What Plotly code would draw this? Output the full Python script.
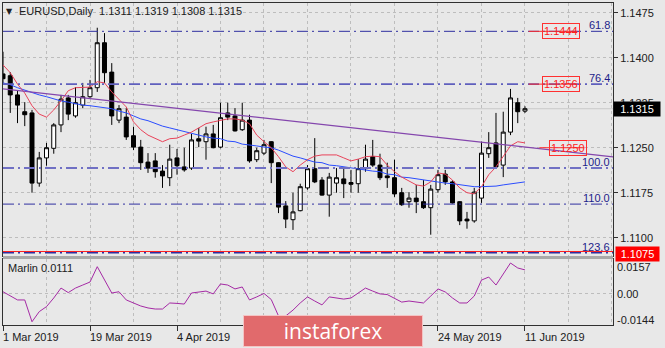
import plotly.graph_objects as go
import pandas as pd

# ---------------- data ----------------
DATES = [d.strftime("%Y-%m-%d") for d in pd.bdate_range("2019-03-01", "2019-06-11")]

OPEN = [1.1373, 1.1370, 1.1338, 1.1310, 1.1308, 1.1191, 1.1233, 1.1249, 1.1288, 1.1333,
        1.1303, 1.1321, 1.1335, 1.1350, 1.1425, 1.1376, 1.1296, 1.1301, 1.1270, 1.1251,
        1.1226, 1.1228, 1.1211, 1.1200, 1.1233, 1.1218, 1.1216, 1.1265, 1.1260, 1.1273,
        1.1251, 1.1308, 1.1303, 1.1280, 1.1296, 1.1230, 1.1241, 1.1260, 1.1225, 1.1153,
        1.1130, 1.1145, 1.1183, 1.1215, 1.1196, 1.1171, 1.1191, 1.1198, 1.1192, 1.1190,
        1.1215, 1.1235, 1.1221, 1.1203, 1.1200, 1.1175, 1.1160, 1.1166, 1.1160, 1.1150,
        1.1180, 1.1206, 1.1193, 1.1160, 1.1131, 1.1128, 1.1166, 1.1240, 1.1258, 1.1221,
        1.1276, 1.1325, 1.1311]
HIGH = [1.1410, 1.1376, 1.1346, 1.1326, 1.1313, 1.1243, 1.1258, 1.1291, 1.1338, 1.1338,
        1.1351, 1.1358, 1.1363, 1.1450, 1.1441, 1.1391, 1.1321, 1.1316, 1.1285, 1.1263,
        1.1241, 1.1241, 1.1221, 1.1255, 1.1248, 1.1250, 1.1273, 1.1283, 1.1285, 1.1288,
        1.1325, 1.1325, 1.1316, 1.1325, 1.1305, 1.1250, 1.1263, 1.1261, 1.1226, 1.1161,
        1.1175, 1.1190, 1.1221, 1.1266, 1.1201, 1.1208, 1.1216, 1.1216, 1.1213, 1.1231,
        1.1255, 1.1263, 1.1240, 1.1225, 1.1230, 1.1183, 1.1176, 1.1188, 1.1196, 1.1188,
        1.1213, 1.1213, 1.1196, 1.1161, 1.1143, 1.1183, 1.1260, 1.1276, 1.1308, 1.1310,
        1.1348, 1.1333, 1.1319]
LOW = [1.1355, 1.1308, 1.1291, 1.1286, 1.1175, 1.1185, 1.1220, 1.1240, 1.1276, 1.1296,
       1.1300, 1.1316, 1.1333, 1.1343, 1.1358, 1.1288, 1.1291, 1.1263, 1.1246, 1.1213,
       1.1208, 1.1200, 1.1183, 1.1186, 1.1205, 1.1210, 1.1213, 1.1251, 1.1230, 1.1249,
       1.1249, 1.1296, 1.1277, 1.1278, 1.1225, 1.1226, 1.1238, 1.1191, 1.1141, 1.1116,
       1.1113, 1.1144, 1.1180, 1.1191, 1.1170, 1.1135, 1.1175, 1.1166, 1.1175, 1.1175,
       1.1210, 1.1218, 1.1196, 1.1183, 1.1168, 1.1153, 1.1150, 1.1141, 1.1148, 1.1105,
       1.1175, 1.1188, 1.1157, 1.1121, 1.1115, 1.1125, 1.1158, 1.1233, 1.1216, 1.1201,
       1.1271, 1.1291, 1.1308]
CLOSE = [1.1365, 1.1338, 1.1321, 1.1305, 1.1191, 1.1233, 1.1250, 1.1288, 1.1331, 1.1306,
         1.1325, 1.1335, 1.1350, 1.1425, 1.1375, 1.1303, 1.1315, 1.1268, 1.1251, 1.1225,
         1.1216, 1.1210, 1.1203, 1.1231, 1.1220, 1.1213, 1.1263, 1.1261, 1.1273, 1.1250,
         1.1300, 1.1301, 1.1278, 1.1296, 1.1228, 1.1245, 1.1255, 1.1225, 1.1151, 1.1131,
         1.1143, 1.1185, 1.1215, 1.1193, 1.1171, 1.1201, 1.1200, 1.1190, 1.1189, 1.1215,
         1.1231, 1.1221, 1.1200, 1.1200, 1.1173, 1.1155, 1.1166, 1.1160, 1.1150, 1.1181,
         1.1205, 1.1193, 1.1158, 1.1128, 1.1128, 1.1176, 1.1241, 1.1250, 1.1218, 1.1276,
         1.1333, 1.1310, 1.1315]

MA_RED = [1.1388, 1.1375, 1.1356, 1.1341, 1.1320, 1.1306, 1.1301, 1.1313, 1.1328, 1.1345,
          1.1350, 1.1351, 1.1351, 1.1360, 1.1358, 1.1343, 1.1331, 1.1318, 1.1293, 1.1280,
          1.1271, 1.1265, 1.1260, 1.1265, 1.1266, 1.1271, 1.1276, 1.1283, 1.1290, 1.1293,
          1.1296, 1.1298, 1.1298, 1.1296, 1.1290, 1.1271, 1.1260, 1.1250, 1.1235, 1.1218,
          1.1210, 1.1221, 1.1230, 1.1236, 1.1238, 1.1238, 1.1238, 1.1233, 1.1228, 1.1231,
          1.1235, 1.1236, 1.1235, 1.1221, 1.1210, 1.1201, 1.1195, 1.1188, 1.1186, 1.1193,
          1.1208, 1.1206, 1.1196, 1.1183, 1.1175, 1.1173, 1.1185, 1.1205, 1.1218, 1.1235,
          1.1253, 1.1260, 1.1258]
MA_BLUE = [1.1358, 1.1355, 1.1350, 1.1346, 1.1341, 1.1338, 1.1335, 1.1331, 1.1328, 1.1326,
           1.1323, 1.1321, 1.1320, 1.1318, 1.1316, 1.1315, 1.1311, 1.1308, 1.1303, 1.1298,
           1.1295, 1.1290, 1.1286, 1.1283, 1.1280, 1.1276, 1.1273, 1.1270, 1.1268, 1.1266,
           1.1265, 1.1261, 1.1260, 1.1256, 1.1255, 1.1253, 1.1251, 1.1250, 1.1246, 1.1241,
           1.1236, 1.1233, 1.1230, 1.1226, 1.1225, 1.1221, 1.1220, 1.1218, 1.1216, 1.1215,
           1.1213, 1.1211, 1.1210, 1.1206, 1.1205, 1.1201, 1.1200, 1.1198, 1.1196, 1.1195,
           1.1193, 1.1191, 1.1190, 1.1188, 1.1186, 1.1185, 1.1185, 1.1185, 1.1186, 1.1188,
           1.1190, 1.1191, 1.1193]
MARLIN = [0.0010, -0.0010, -0.0028, -0.0028, -0.0129, -0.0082, -0.0059, -0.0019, 0.0027, 0.0006,
          0.0027, 0.0041, 0.0055, 0.0126, 0.0064, 0.0004, 0.0010, -0.0028, -0.0042, -0.0056,
          -0.0065, -0.0070, -0.0070, -0.0042, -0.0044, -0.0047, 0.0004, 0.0009, 0.0013, 0.0000,
          0.0046, 0.0041, 0.0023, 0.0032, -0.0028, -0.0014, 0.0002, -0.0026, -0.0102, -0.0102,
          -0.0075, -0.0042, -0.0014, -0.0033, -0.0051, -0.0014, -0.0019, -0.0024, -0.0019, 0.0004,
          0.0027, 0.0013, 0.0000, -0.0003, -0.0019, -0.0038, -0.0033, -0.0038, -0.0042, -0.0010,
          0.0023, 0.0009, -0.0019, -0.0042, -0.0042, -0.0010, 0.0064, 0.0078, 0.0041, 0.0092,
          0.0143, 0.0120, 0.0111]

TREND_DATES = ["2019-03-01", "2019-06-11"]
TREND_PRICES = [1.1348, 1.1251]

FIBO_NAMES = ["61.8", "76.4", "100.0", "110.0", "123.6"]
FIBO_PRICES = [1.1444, 1.1356, 1.1216, 1.1156, 1.1075]
MARK_PRICES = [1.1444, 1.1356, 1.1250]
SUPPORT_PRICE = 1.1075

PRICE_TICKS = [1.1100, 1.1175, 1.1250, 1.1325, 1.1400, 1.1475]
MARLIN_TICKS = [0.0157, 0.0, -0.0144]
MARLIN_TICK_TEXT = ["0.0157", "0.00", "-0.0144"]
LABEL_DATES = ["2019-03-01", "2019-03-19", "2019-04-04", "2019-05-24", "2019-06-11"]
LABEL_TEXT = ["1 Mar 2019", "19 Mar 2019", "4 Apr 2019", "24 May 2019", "11 Jun 2019"]

# ---------------- figure ----------------
FONT = "Liberation Sans, Arial, DejaVu Sans, sans-serif"
BG = "#e8e8e8"
GRID = "#bdbdbd"
X = list(range(len(DATES)))
XMAX = 84.14
idx = {d: i for i, d in enumerate(DATES)}

fig = go.Figure()

fig.add_trace(go.Candlestick(
    x=X, open=OPEN, high=HIGH, low=LOW, close=CLOSE,
    increasing=dict(line=dict(color="black", width=1), fillcolor="white"),
    decreasing=dict(line=dict(color="black", width=1), fillcolor="black"),
    whiskerwidth=0, xaxis="x", yaxis="y", hoverinfo="skip"))

fig.add_trace(go.Scatter(x=X, y=MA_BLUE, mode="lines",
                         line=dict(color="#2b4dff", width=1), xaxis="x", yaxis="y"))
fig.add_trace(go.Scatter(x=X, y=MA_RED, mode="lines",
                         line=dict(color="#e8435a", width=1), xaxis="x", yaxis="y"))

# trend ray
tx0, tx1 = idx[TREND_DATES[0]], idx[TREND_DATES[1]]
slope = (TREND_PRICES[1] - TREND_PRICES[0]) / (tx1 - tx0)
fig.add_trace(go.Scatter(x=[tx0, XMAX], y=[TREND_PRICES[0], TREND_PRICES[0] + slope * (XMAX - tx0)],
                         mode="lines", line=dict(color="#8446ad", width=1.3), xaxis="x", yaxis="y"))

fig.add_trace(go.Scatter(x=X, y=MARLIN, mode="lines",
                         line=dict(color="#a52aa5", width=1), xaxis="x2", yaxis="y2"))

shapes = []
annotations = []

# Fibonacci levels
fibo_style = {"61.8": ("#2f2fa0", 1), "76.4": ("#5f5fbd", 1.6), "100.0": ("#7070c4", 2),
              "110.0": ("#2f2fa0", 1), "123.6": ("#2f2fa0", 1.6)}
for name, p in zip(FIBO_NAMES, FIBO_PRICES):
    col, w = fibo_style[name]
    shapes.append(dict(type="line", xref="x", yref="y", x0=0, x1=XMAX, y0=p, y1=p,
                       line=dict(color=col, width=w, dash="11px,4px,2px,4px"), layer="above"))
    annotations.append(dict(xref="paper", yref="y", x=1, y=p, xanchor="right", yanchor="bottom",
                            xshift=-1, yshift=-2, text=name, showarrow=False,
                            font=dict(family=FONT, size=11, color="#1d1d8a")))

# support line 1.1075
shapes.append(dict(type="line", xref="x", yref="y", x0=0, x1=XMAX, y0=SUPPORT_PRICE + 0.0002,
                   y1=SUPPORT_PRICE + 0.0002, line=dict(color="#ff2020", width=1), layer="above"))

# bid line
shapes.append(dict(type="line", xref="x", yref="y", x0=0, x1=XMAX, y0=CLOSE[-1], y1=CLOSE[-1],
                   line=dict(color="#c9c9c9", width=1), layer="below"))

# red price markers
last = len(DATES) - 1
for k, p in enumerate(MARK_PRICES):
    start = last + (0.5 if k < 2 else 2.0)
    cx = last + (5.0 if k < 2 else 6.0)
    shapes.append(dict(type="line", xref="x", yref="y", x0=start, x1=cx + 2.2, y0=p, y1=p,
                       line=dict(color="#ff2a2a", width=1), layer="above"))
    annotations.append(dict(xref="x", yref="y", x=cx, y=p, text=f"{p:.4f}", showarrow=False,
                            font=dict(family=FONT, size=11, color="#ff2020"),
                            bordercolor="#ff3030", borderwidth=1, borderpad=1,
                            bgcolor="rgba(0,0,0,0)"))

# separator between panels
shapes.append(dict(type="rect", xref="paper", yref="paper", x0=0, x1=1, y0=0.2050, y1=0.2143,
                   fillcolor="#a9a9a9", line=dict(width=0), layer="above"))

# title
annotations.append(dict(xref="paper", yref="paper", x=0, y=0.975, xanchor="left", yanchor="middle",
                        xshift=1, text="▼", showarrow=False,
                        font=dict(family="DejaVu Sans", size=8, color="#202020")))
annotations.append(dict(xref="paper", yref="paper", x=0, y=0.975, xanchor="left", yanchor="middle",
                        xshift=14,
                        text=f"EURUSD,Daily  {OPEN[-1]:.4f} {HIGH[-1]:.4f} {LOW[-1]:.4f} {CLOSE[-1]:.4f}",
                        showarrow=False, font=dict(family=FONT, size=11, color="#202020")))

# indicator name
annotations.append(dict(xref="paper", yref="paper", x=0, y=0.178, xanchor="left", yanchor="middle",
                        xshift=3, text=f"Marlin {MARLIN[-1]:.4f}", showarrow=False,
                        font=dict(family=FONT, size=11, color="#202020")))

# indicator scale labels
for v, t, ys in zip(MARLIN_TICKS, MARLIN_TICK_TEXT, [-7, 0, 5]):
    annotations.append(dict(xref="paper", yref="y2", x=1, y=v, xanchor="left", yanchor="middle",
                            xshift=2, yshift=ys, text=t, showarrow=False,
                            font=dict(family=FONT, size=11, color="#202020")))

# price boxes on the axis
annotations.append(dict(xref="paper", yref="y", x=1, y=CLOSE[-1], xanchor="left", yanchor="middle",
                        text=f"{CLOSE[-1]:.4f}", showarrow=False, bgcolor="black", width=44,
                        font=dict(family=FONT, size=11, color="white"), borderpad=1))
annotations.append(dict(xref="paper", yref="y", x=1, y=SUPPORT_PRICE, xanchor="left", yanchor="middle",
                        xshift=2, yshift=-1, text=f"{SUPPORT_PRICE:.4f}", showarrow=False,
                        bgcolor="#ff0000", width=41,
                        font=dict(family=FONT, size=11, color="white"), borderpad=1))

# date labels
for d, t in zip(LABEL_DATES, LABEL_TEXT):
    annotations.append(dict(xref="x2", yref="paper", x=idx[d], y=-0.037, xanchor="left",
                            yanchor="middle", xshift=-2, text=t, showarrow=False,
                            font=dict(family=FONT, size=11, color="#202020")))

# watermark
annotations.append(dict(xref="paper", yref="paper", x=0.541, y=-0.020, xanchor="center",
                        yanchor="middle", text="instaforex", showarrow=False, width=176, height=28,
                        bgcolor="#e16a6c", bordercolor="#f4c4c4", borderwidth=1,
                        font=dict(family="Open Sans", size=21, color="white")))

axis_common = dict(showline=True, linecolor="#303030", linewidth=1, mirror=True, zeroline=False)

fig.update_layout(
    width=665, height=348, autosize=False,
    margin=dict(l=3, r=52, t=3, b=23),
    paper_bgcolor=BG, plot_bgcolor=BG, showlegend=False,
    boxgap=0.45, boxgroupgap=0,
    font=dict(family=FONT, size=11, color="#202020"),
    xaxis=dict(domain=[0, 1], anchor="y", range=[0, XMAX], showticklabels=False, ticks="",
               tickvals=list(range(0, 85, 6)), showgrid=True, gridcolor=GRID, griddash="3px,3px",
               rangeslider=dict(visible=False), **axis_common),
    yaxis=dict(domain=[0.2143, 1], anchor="x", side="right", range=[1.10695, 1.14912],
               tickvals=PRICE_TICKS, ticktext=[f"{v:.4f}" for v in PRICE_TICKS],
               ticks="outside", ticklen=4, tickcolor="#303030",
               tickfont=dict(family=FONT, size=11, color="#202020"),
               showgrid=True, gridcolor=GRID, griddash="3px,3px", **axis_common),
    xaxis2=dict(domain=[0, 1], anchor="y2", range=[0, XMAX], showticklabels=False,
                tickvals=[idx[d] for d in LABEL_DATES], ticks="outside", ticklen=5,
                tickcolor="#303030", showgrid=False,
                minor=dict(tickvals=list(range(0, 85, 6)), showgrid=True, gridcolor=GRID,
                           griddash="3px,3px", ticks=""),
                **axis_common),
    yaxis2=dict(domain=[0, 0.205], anchor="x2", side="right", range=[-0.0144, 0.01616],
                tickvals=[0], showticklabels=False, ticks="", showgrid=True, gridcolor=GRID,
                griddash="3px,3px", **axis_common),
    shapes=shapes, annotations=annotations,
)

fig.write_html("out.html")
